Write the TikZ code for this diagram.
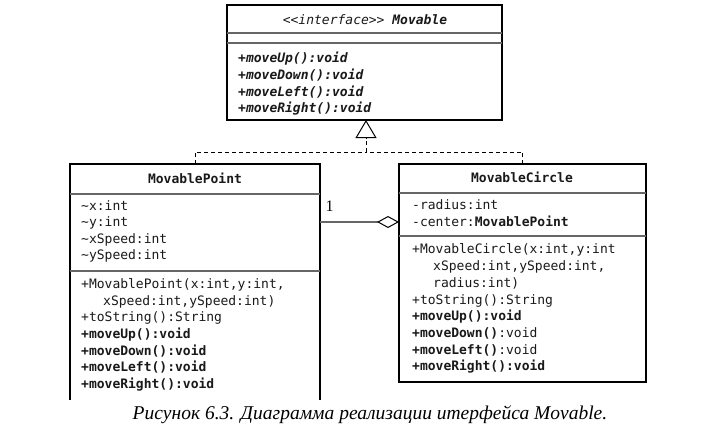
\documentclass[tikz,border=0pt]{standalone}
\usepackage{fontspec}
\setmainfont{Liberation Serif}
\newfontfamily\mono{DejaVu Sans Mono}
\usetikzlibrary{arrows.meta}
\tikzset{
  umlbox/.style={anchor=north west, inner sep=0pt, outer sep=0pt},
  border/.style={draw=black, line width=1.2pt},
  sepline/.style={draw=black!60, line width=1.4pt},
  txt/.style={anchor=base west, inner sep=0pt, text=black!90, font=\mono\fontsize{13}{15}\selectfont},
  ctxt/.style={txt, anchor=base},
  realize/.style={draw=black, line width=0.9pt, dash pattern=on 4pt off 3pt},
  assoc/.style={draw=black!60, line width=1.4pt},
}
\begin{document}
\begin{tikzpicture}[x=1pt, y=-1pt]
\useasboundingbox (0,0) rectangle (719,436);

% interface box
\node[umlbox, minimum width=275pt, minimum height=115pt] (iface) at (227,5) {};
\draw[border] (iface.north west) rectangle (iface.south east);
\draw[sepline] ([yshift=-28pt]iface.north west) -- ([yshift=-28pt]iface.north east);
\draw[sepline] ([yshift=-38pt]iface.north west) -- ([yshift=-38pt]iface.north east);
\node[ctxt] (ifn) at (365,25) {\itshape <<interface>> \bfseries Movable};
\node[txt] (if1) at (238,63) {\bfseries\itshape +moveUp():void};
\node[txt] (if2) at (238,79.5) {\bfseries\itshape +moveDown():void};
\node[txt] (if3) at (238,96) {\bfseries\itshape +moveLeft():void};
\node[txt] (if4) at (238,112.5) {\bfseries\itshape +moveRight():void};

% MovablePoint box (open at bottom)
\node[umlbox, minimum width=250pt, minimum height=236pt] (mp) at (70,164) {};
\draw[border] (mp.south west) |- (mp.north east) -- (mp.south east);
\draw[sepline] ([yshift=-30pt]mp.north west) -- ([yshift=-30pt]mp.north east);
\draw[sepline] ([yshift=-107pt]mp.north west) -- ([yshift=-107pt]mp.north east);
\node[ctxt] (mpn) at (195,183) {\bfseries MovablePoint};
\node[txt] (mpa1) at (81,210) {\textasciitilde x:int};
\node[txt] (mpa2) at (81,226.5) {\textasciitilde y:int};
\node[txt] (mpa3) at (81,243) {\textasciitilde xSpeed:int};
\node[txt] (mpa4) at (81,259.5) {\textasciitilde ySpeed:int};
\node[txt] (mpm1) at (81,288) {+MovablePoint(x:int,y:int,};
\node[txt] (mpm2) at (103,305) {xSpeed:int,ySpeed:int)};
\node[txt] (mpm3) at (81,321.5) {+toString():String};
\node[txt] (mpm4) at (81,338) {\bfseries +moveUp():void};
\node[txt] (mpm5) at (81,355) {\bfseries +moveDown():void};
\node[txt] (mpm6) at (81,371.5) {\bfseries +moveLeft():void};
\node[txt] (mpm7) at (81,388) {\bfseries +moveRight():void};

% MovableCircle box
\node[umlbox, minimum width=247pt, minimum height=218pt] (mc) at (399,164) {};
\draw[border] (mc.north west) rectangle (mc.south east);
\draw[sepline] ([yshift=-29pt]mc.north west) -- ([yshift=-29pt]mc.north east);
\draw[sepline] ([yshift=-72pt]mc.north west) -- ([yshift=-72pt]mc.north east);
\node[ctxt] (mcn) at (522,182) {\bfseries MovableCircle};
\node[txt] (mca1) at (412,209) {-radius:int};
\node[txt] (mca2) at (412,226) {-center:\textbf{MovablePoint}};
\node[txt] (mcm1) at (412,253) {+MovableCircle(x:int,y:int};
\node[txt] (mcm2) at (433,270) {xSpeed:int,ySpeed:int,};
\node[txt] (mcm3) at (433,287) {radius:int)};
\node[txt] (mcm4) at (412,304) {+toString():String};
\node[txt] (mcm5) at (412,320.5) {\bfseries +moveUp():void};
\node[txt] (mcm6) at (412,337) {\textbf{+moveDown()}:void};
\node[txt] (mcm7) at (412,354) {\textbf{+moveLeft()}:void};
\node[txt] (mcm8) at (412,370.5) {\bfseries +moveRight():void};

% realization connectors
\coordinate (j) at (366,152);
\draw[realize] (mp.north) |- (j);
\draw[realize] (mc.north) |- (j);
\draw[realize, -{Triangle[open, length=18pt, width=21pt, line width=1pt]}] (j) -- (iface.south -| j);

% aggregation
\draw[assoc, -{Diamond[open, length=22pt, width=12pt, line width=1pt, color=black]}]
  ([yshift=-58pt]mp.north east) -- ([yshift=-58pt]mc.north west);
\node[anchor=base, inner sep=0pt, font=\fontsize{16}{18}\selectfont] (mult) at (329.5,211) {1};

% caption
\node[anchor=base, inner sep=0pt, font=\itshape\fontsize{19.5}{22}\selectfont] (cap) at (370,419)
  {Рисунок 6.3. Диаграмма реализации итерфейса Movable.};
\end{tikzpicture}
\end{document}
